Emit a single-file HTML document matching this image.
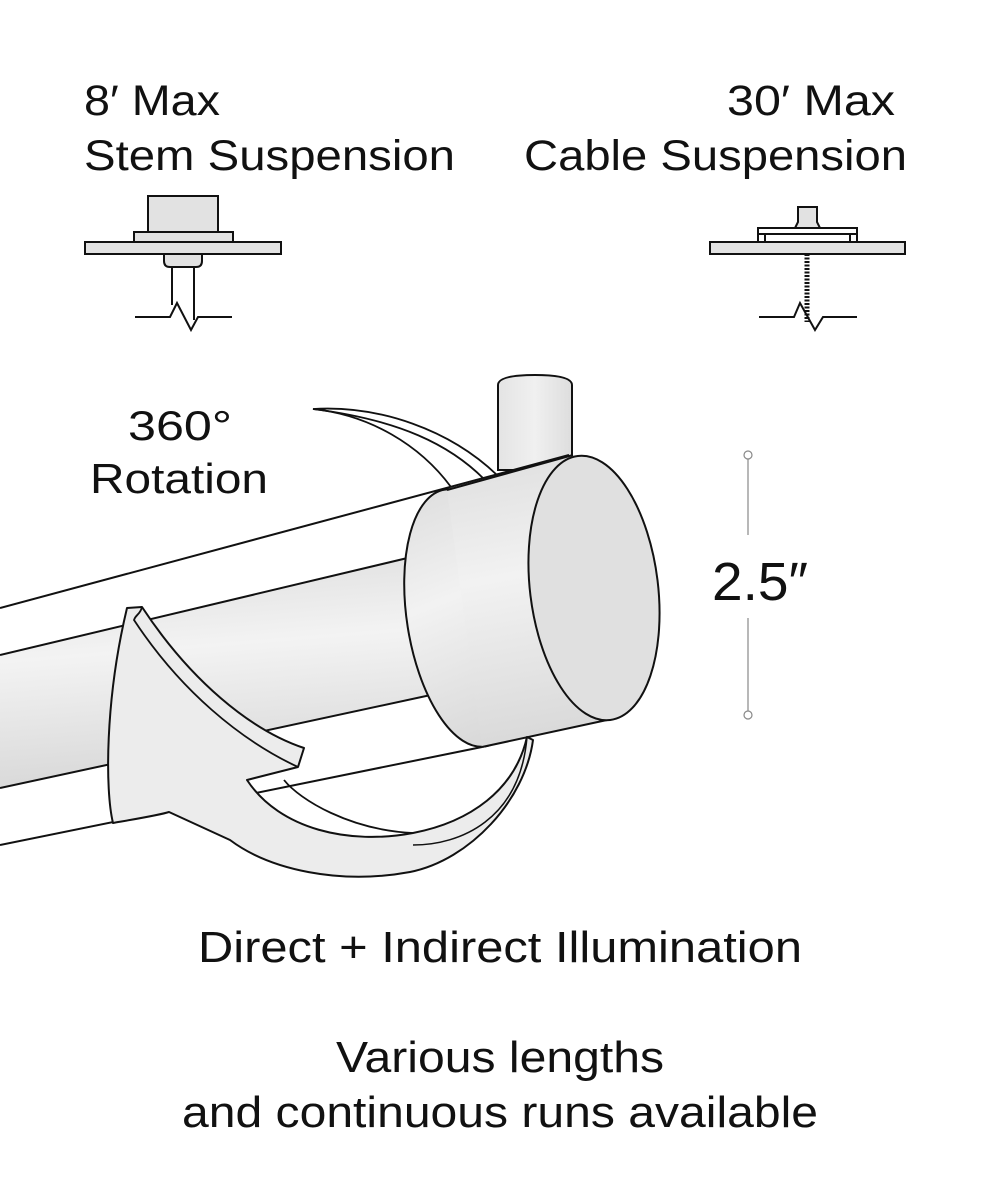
<!DOCTYPE html>
<html><head><meta charset="utf-8"><style>
html,body{margin:0;padding:0;background:#fff}
svg{display:block}
text{font-family:"Liberation Sans",sans-serif;fill:#111}
</style></head><body>
<svg width="1000" height="1200" viewBox="0 0 1000 1200" xmlns="http://www.w3.org/2000/svg">
<defs>
<linearGradient id="rod" x1="0" y1="0" x2="0.15" y2="1">
<stop offset="0" stop-color="#dcdcdc"/><stop offset="0.45" stop-color="#f3f3f3"/><stop offset="1" stop-color="#d8d8d8"/>
</linearGradient>
<linearGradient id="cap" x1="0" y1="0" x2="0.1" y2="1">
<stop offset="0" stop-color="#dedede"/><stop offset="0.45" stop-color="#f2f2f2"/><stop offset="1" stop-color="#dadada"/>
</linearGradient>
<linearGradient id="stem" x1="0" y1="0" x2="1" y2="0">
<stop offset="0" stop-color="#e4e4e4"/><stop offset="0.5" stop-color="#f0f0f0"/><stop offset="1" stop-color="#dddddd"/>
</linearGradient>
</defs>

<!-- Headings -->
<text x="84" y="115" font-size="43" textLength="136" lengthAdjust="spacingAndGlyphs">8′ Max</text>
<text x="84" y="170" font-size="43" textLength="371" lengthAdjust="spacingAndGlyphs">Stem Suspension</text>
<text x="727" y="115" font-size="43" textLength="168" lengthAdjust="spacingAndGlyphs">30′ Max</text>
<text x="524" y="170" font-size="43" textLength="383" lengthAdjust="spacingAndGlyphs">Cable Suspension</text>

<!-- Stem icon -->
<g stroke="#111" stroke-width="2" fill="#e2e2e2">
<rect x="148" y="196" width="70" height="36"/>
<rect x="134" y="232" width="99" height="10"/>
<rect x="85" y="242" width="196" height="12"/>
<path d="M164 254 H202 V261 Q202 267 196 267 H170 Q164 267 164 261 Z"/>
</g>
<g stroke="#111" stroke-width="2" fill="none">
<path d="M172 267 V305"/><path d="M194 267 V320"/>
<path d="M135 317 H170 L177 303 L191 330 L198 317 H232"/>
</g>

<!-- Cable icon -->
<g stroke="#111" stroke-width="2" fill="#e2e2e2">
<path d="M798 207 H817 V222 L820 228 H795 L798 222 Z"/>
<rect x="758" y="228" width="99" height="15" fill="#fff"/>
<path d="M758 234 H857 M765 234 V243 M850 234 V243" fill="none"/>
<rect x="710" y="242" width="195" height="12"/>
</g>
<path d="M807 254 V322" stroke="#111" stroke-width="5" stroke-dasharray="2 1.5" fill="none"/>
<path d="M759 317 H794 L800 303 L815 330 L823 317 H857" stroke="#111" stroke-width="2" fill="none"/>

<!-- Rotation label -->
<text x="180" y="440" font-size="42" text-anchor="middle" textLength="104" lengthAdjust="spacingAndGlyphs">360°</text>
<text x="179" y="493" font-size="42" text-anchor="middle" textLength="178" lengthAdjust="spacingAndGlyphs">Rotation</text>

<!-- upper thin crescent -->
<path d="M313 409 C380 405 450 430 497 475 L484 479 C450 445 400 420 313 409 Z" fill="#fff" stroke="#111" stroke-width="1.8"/>
<path d="M313 409 C370 415 420 445 451 487" fill="none" stroke="#111" stroke-width="1.8"/>

<!-- stem -->
<path d="M498 385 Q498 375 535 375 Q572 375 572 385 V470 H498 Z" fill="url(#stem)" stroke="#111" stroke-width="2"/>

<!-- outer housing -->
<path d="M0 608 L569 455 L607 720 L0 845 Z" fill="#fff"/>
<path d="M0 608 L569 455" stroke="#111" stroke-width="2" fill="none"/>
<path d="M0 845 L482 747" stroke="#111" stroke-width="2" fill="none"/>
<!-- inner rod -->
<path d="M0 655 L420 555 L440 693 L0 788 Z" fill="url(#rod)" stroke="none"/>
<path d="M0 655 L420 555" stroke="#111" stroke-width="2"/>
<path d="M0 788 L440 693" stroke="#111" stroke-width="2"/>

<!-- lower ring behind -->
<path d="M527 737 C520 800 470 835 413 833 C350 830 300 800 284 780" fill="none" stroke="#111" stroke-width="1.8"/>

<!-- cap body -->
<g transform="rotate(-9 465 618)"><ellipse cx="465" cy="618" rx="58" ry="130" fill="url(#cap)" stroke="#111" stroke-width="2"/></g>
<path d="M447 490 L573 455 L607 720 L482 747 Z" fill="url(#cap)"/>
<path d="M447 490 L573 455 M607 720 L482 747" stroke="#111" stroke-width="2"/>
<g transform="rotate(-7 594 588)"><ellipse cx="594" cy="588" rx="64" ry="133" fill="#e0e0e0" stroke="#111" stroke-width="2"/></g>

<!-- big arrow -->
<path d="M127 608 L142 607 C190 680 250 730 304 748 L298 767 L247 780 C280 830 350 845 413 833 C470 822 515 790 527 737 L533 740 C525 800 470 860 410 872 C340 885 270 870 230 840 L169 812 C160 815 130 820 113 823 C105 790 105 700 127 608 Z" fill="#ececec" stroke="#111" stroke-width="2" stroke-linejoin="round"/>
<path d="M142 607 C140 615 136 614 134 620 C180 690 240 740 298 767" fill="none" stroke="#111" stroke-width="1.8"/>
<path d="M527 737 C520 820 460 845 413 845" fill="none" stroke="#111" stroke-width="1.5"/>

<!-- dimension -->
<g stroke="#888" stroke-width="1.2" fill="#fff">
<line x1="748" y1="459" x2="748" y2="535"/>
<line x1="748" y1="618" x2="748" y2="711"/>
<circle cx="748" cy="455" r="4"/>
<circle cx="748" cy="715" r="4"/>
</g>
<text x="760" y="600" font-size="54" text-anchor="middle" textLength="96" lengthAdjust="spacingAndGlyphs">2.5″</text>

<!-- bottom text -->
<text x="500" y="962" font-size="44" text-anchor="middle" textLength="604" lengthAdjust="spacingAndGlyphs">Direct + Indirect Illumination</text>
<text x="500" y="1072" font-size="44" text-anchor="middle" textLength="328" lengthAdjust="spacingAndGlyphs">Various lengths</text>
<text x="500" y="1127" font-size="44" text-anchor="middle" textLength="636" lengthAdjust="spacingAndGlyphs">and continuous runs available</text>
</svg>
</body></html>
